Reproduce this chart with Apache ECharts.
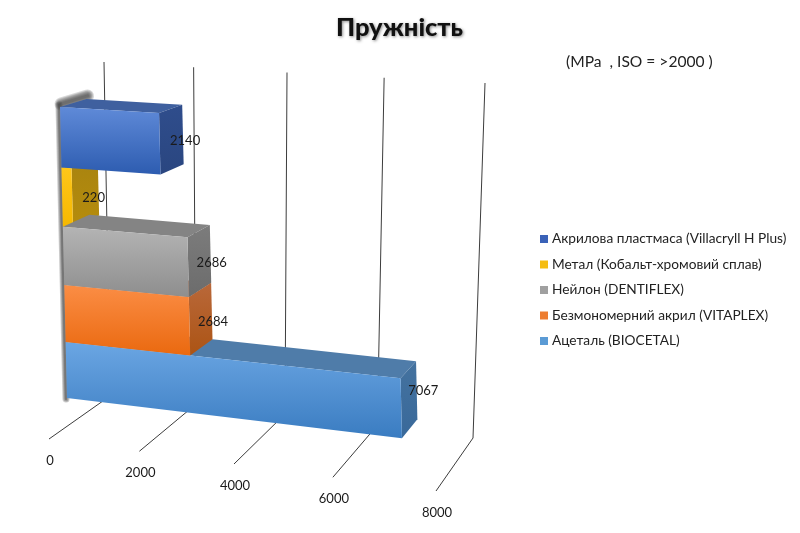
<!DOCTYPE html>
<html><head><meta charset="utf-8">
<style>html,body{margin:0;padding:0;background:#fff}#c{width:800px;height:533px}</style>
<script src="https://cdn.jsdelivr.net/npm/echarts@6/dist/echarts.min.js"></script>
</head><body><div id="c"></div>
<script>
const categories = ['Акрилова пластмаса (Villacryll H Plus)','Метал (Кобальт-хромовий сплав)','Нейлон (DENTIFLEX)','Безмономерний акрил (VITAPLEX)','Ацеталь (BIOCETAL)'];
const values = [2140, 220, 2686, 2684, 7067];
const tickValues = [0, 2000, 4000, 6000, 8000];

const seriesZ = [9, 7, 8, 6, 5];
const labelLift = [-2.5, 0, -4, -4.5, -17.5];
const labelShift = [14.5, 9, 13, 13, 15];
const faces = [
  {front:['#5f8ad8','#2d5cb0'], side:['#2f4d8c','#2a4680'], top:'#3f609f', mark:'#3a62b8'},
  {front:['#ffc61a','#f5b800'], side:['#a98410','#b58c0c'], top:'#b58c0c', mark:'#f5bd12'},
  {front:['#b4b4b4','#8e8e8e'], side:['#7c7c7c','#6c6c6c'], top:'#848484', mark:'#a0a0a0'},
  {front:['#fb8d45','#ea690f'], side:['#b9683a','#ac5414'], top:'#b9683a', mark:'#ed7d31'},
  {front:['#6ba6e3','#3a7cc1'], side:['#44729f','#39699a'], top:'#4f7ca9', mark:'#5b9bd5'}
];

const G = {left:60, top:107, width:376, height:291};
const quad = (a,b,c,t) => a + b*t + c*t*t;
const tOf = X => (X - G.left) / G.width;
function front(X, w0){
  const s = (w0 - G.top) / G.height;
  const w = w0 + 14*s*(1-s);
  const dx = quad(0, 366.4, 14.46, tOf(X));
  return [60 + (w-107)*0.024 + dx, w + (0.06 + (w-107)*0.000206)*dx];
}
function back(p, X){
  const v = tOf(X);
  return [p[0] + 26.5 - 12.5*v, p[1] - (8.3 + 0.033*(p[1]-113))];
}
const railTop = t => [quad(104,351,30,t), quad(62,21,0,t)];
const railCorner = t => [quad(110,337,26,t), quad(396,30,12,t)];
const railEnd = t => [quad(49,353,34,t), quad(439,48,4,t)];
const grad = c => ({type:'linear',x:0,y:0,x2:0,y2:1,colorStops:[{offset:0,color:c[0]},{offset:1,color:c[1]}]});

function renderBar(i){
  return function(params, api){
    const v = api.value(0);
    const c = api.coord([v, api.value(1)]);
    const X0 = api.coord([0, api.value(1)])[0];
    const h = api.size([0,1])[1];
    const w1 = c[1]-h/2, w2 = c[1]+h/2;
    const TL = front(X0,w1), BL = front(X0,w2), TR = front(c[0],w1), BR = front(c[0],w2);
    const f = faces[i];
    const poly = (pts, fill) => ({type:'polygon', shape:{points:pts}, style:{fill:fill, stroke:null}});
    const midY = (TR[1]+BR[1])/2;
    return {type:'group', children:[
      poly([TL,TR,back(TR,c[0]),back(TL,X0)], f.top),
      poly([TR,BR,back(BR,c[0]),back(TR,c[0])], grad(f.side)),
      poly([TL,TR,BR,BL], grad(f.front)),
      {type:'text', style:{text:String(v), x:(TR[0]+back(TR,c[0])[0])/2 + labelShift[i], y:midY+labelLift[i],
        align:'center', verticalAlign:'middle', font:'13px Lato', fill:'#1a1a1a'}}
    ]};
  };
}
function renderTick(params, api){
  const v = api.value(0);
  const t = tOf(api.coord([v, 0])[0]);
  const a = railTop(t), b = railCorner(t), e = railEnd(t);
  return {type:'group', children:[
    {type:'polyline', shape:{points:[a,b,e]}, style:{stroke:'#3c3c3c', lineWidth:1, fill:null}},
    {type:'text', style:{text:String(v), x:e[0]+1, y:e[1]+21.5, align:'center', verticalAlign:'middle', font:'13px Lato', fill:'#1a1a1a'}}
  ]};
}
function softLine(pts, widths, color){
  return widths.map(w => ({type:'polyline', shape:{points:pts}, style:{lineWidth:w, stroke:color, fill:null, lineCap:'round'}}));
}
function renderWall(params, api){
  const a = api.coord([0, 0]), b = api.coord([0, categories.length-1]);
  const h = api.size([0,1])[1];
  const T = front(a[0], a[1]-h/2), B = front(b[0], b[1]+h/2);
  const TB = back(T, a[0]);
  return {type:'group', children:
    softLine([[T[0]+1,T[1]-3],[TB[0]+1,TB[1]-3]], [13,11,9,7,5,3], 'rgba(60,60,60,0.2)').concat(
    softLine([[T[0]-1,T[1]-2],[B[0]-1,B[1]+1]], [7,5,3,2], 'rgba(70,70,70,0.28)'))
  };
}

const chart = echarts.init(document.getElementById('c'), null, {renderer:'canvas'});
chart.setOption({
  animation:false,
  backgroundColor:'#fff',
  title:[
    {text:'Пружність', left:331, top:10, textStyle:{fontFamily:'Lato', fontWeight:'900', fontSize:25.5, color:'#111', textShadowColor:'rgba(0,0,0,0.45)', textShadowBlur:3, textShadowOffsetX:1, textShadowOffsetY:1}},
    {text:'(MPa  , ISO = >2000 )', left:561, top:49, textStyle:{fontFamily:'Lato', fontWeight:'normal', fontSize:15.6, color:'#222'}}
  ],
  legend:{
    orient:'vertical', left:535, top:227, itemWidth:8, itemHeight:8, itemGap:11.5, icon:'rect',
    data:categories, selectedMode:false,
    textStyle:{fontFamily:'Lato', fontSize:13.7, color:'#222', padding:[0,0,0,-1], lineHeight:14}
  },
  grid:G,
  xAxis:{type:'value', min:0, max:8000, interval:2000, show:false},
  yAxis:{type:'category', data:categories, inverse:true, show:false},
  series: categories.map((name,i)=>({
    name, type:'custom', z:seriesZ[i], coordinateSystem:'cartesian2d',
    itemStyle:{color:faces[i].mark},
    renderItem:renderBar(i), data:[[values[i], i]], encode:{x:0,y:1}, clip:false
  })).concat([
    {name:'__ticks', type:'custom', z:1, renderItem:renderTick, data:tickValues.map(v=>[v,0]), encode:{x:0,y:1}, clip:false},
    {name:'__wall', type:'custom', z:2, renderItem:renderWall, data:[[0,0]], encode:{x:0,y:1}, clip:false}
  ])
});
</script></body></html>
